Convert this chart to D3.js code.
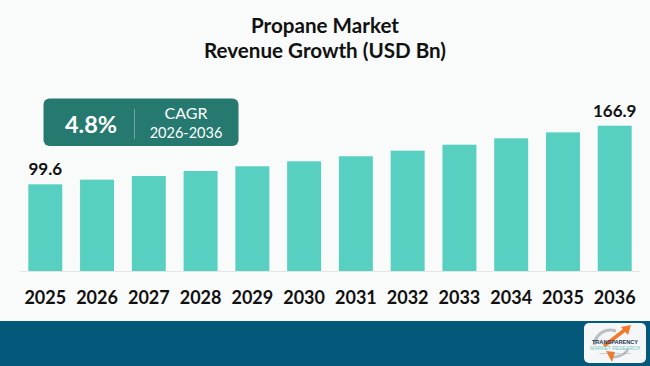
<!DOCTYPE html>
<html><head><meta charset="utf-8">
<script src="https://cdn.jsdelivr.net/npm/d3@7/dist/d3.min.js"></script>
<style>
html,body{margin:0;padding:0;background:#f9fafa;}
svg{display:block;}
</style></head>
<body><svg id="chart" width="650" height="366"></svg>
<script>
const years = ["2025","2026","2027","2028","2029","2030","2031","2032","2033","2034","2035","2036"];
const revenue = [99.6,104.9,109.1,114.9,120.3,126.0,131.8,138.2,145.1,152.4,159.3,166.9];
const labeledYears = ["2025","2036"];
const titleLines = ["Propane Market","Revenue Growth (USD Bn)"];
const cagrValue = "4.8%";
const cagrLabel = "CAGR";
const cagrPeriod = "2026-2036";

const W = 650, H = 366;
const svg = d3.select("#chart");
svg.append("rect").attr("width",W).attr("height",H).attr("fill","#f9fafa");

const titleFont = "Lato, 'Open Sans', sans-serif";

// Title
svg.append("g").selectAll("text").data(titleLines).join("text")
  .attr("x",W/2).attr("y",(d,i)=>32.8+i*25)
  .attr("text-anchor","middle")
  .attr("font-family",titleFont).attr("font-weight",700)
  .attr("font-size",20.6).attr("fill","#111")
  .text(d=>d);

// Scales
const x = d3.scaleBand().domain(years).range([28.3,631.7]).paddingInner(0.344).paddingOuter(0);
const y = d3.scaleLinear().domain([0,100]).range([271,271-87.05]);

// baseline
svg.append("line").attr("x1",20).attr("x2",640).attr("y1",y(0)+0.5).attr("y2",y(0)+0.5)
  .attr("stroke","#e4e6e6").attr("stroke-width",1);

// bars
svg.append("g").selectAll("rect").data(years).join("rect")
  .attr("x",d=>x(d)).attr("width",x.bandwidth())
  .attr("y",(d,i)=>y(revenue[i])).attr("height",(d,i)=>y(0)-y(revenue[i]))
  .attr("fill","#57d0c1");

// value labels
svg.append("g").selectAll("text").data(years.filter(d=>labeledYears.includes(d))).join("text")
  .attr("x",d=>x(d)+x.bandwidth()/2)
  .attr("y",d=>y(revenue[years.indexOf(d)])-9)
  .attr("text-anchor","middle")
  .attr("font-family",titleFont).attr("font-weight",700)
  .attr("font-size",17).attr("fill","#111")
  .text(d=>revenue[years.indexOf(d)].toFixed(1));

// x axis
const xAxis = svg.append("g").attr("transform",`translate(0,${y(0)})`)
  .call(d3.axisBottom(x).tickSize(0).tickPadding(0));
xAxis.select(".domain").remove();
xAxis.selectAll("text").attr("dy",0).attr("y",33)
  .attr("font-family",titleFont).attr("font-weight",700)
  .attr("font-size",18).attr("fill","#111");

// CAGR box
const cg = svg.append("g");
cg.append("rect").attr("x",43.5).attr("y",98.5).attr("width",195).attr("height",47.5)
  .attr("rx",6).attr("fill","#25796f");
cg.append("text").attr("x",91).attr("y",132.5).attr("text-anchor","middle")
  .attr("font-family",titleFont).attr("font-weight",700).attr("font-size",23.5)
  .attr("fill","#fff").text(cagrValue);
cg.append("line").attr("x1",134.5).attr("x2",134.5).attr("y1",109).attr("y2",139)
  .attr("stroke","#6fa9a1").attr("stroke-width",1);
cg.append("text").attr("x",186).attr("y",118.7).attr("text-anchor","middle")
  .attr("font-family",titleFont).attr("font-weight",400).attr("font-size",16)
  .attr("fill","#fff").text(cagrLabel);
cg.append("text").attr("x",186).attr("y",137.7).attr("text-anchor","middle")
  .attr("font-family",titleFont).attr("font-weight",400).attr("font-size",14.5)
  .attr("fill","#fff").text(cagrPeriod);

// bottom band
svg.append("rect").attr("x",0).attr("y",321).attr("width",W).attr("height",H-321).attr("fill","#04587a");

// logo
const lg = svg.append("g");
lg.append("rect").attr("x",584).attr("y",323).attr("width",62).attr("height",40).attr("rx",5).attr("fill","#f4f6f7");
lg.append("path").attr("d","M594,345 C596,333 606,328 616,331").attr("fill","none").attr("stroke","#b9c0c4").attr("stroke-width",3);
lg.append("path").attr("d","M604,346 L626,329").attr("fill","none").attr("stroke","#f07a2a").attr("stroke-width",3.5);
lg.append("path").attr("d","M621,327 L631,325 L628,335 Z").attr("fill","#f07a2a");
lg.append("path").attr("d","M610,357 C618,358 626,354 628,349").attr("fill","none").attr("stroke","#b9c0c4").attr("stroke-width",2.5);
lg.append("path").attr("d","M606,351 L612,362 L615,352 Z").attr("fill","#f07a2a");
lg.append("text").attr("x",615).attr("y",344).attr("text-anchor","middle")
  .attr("font-family","'Liberation Sans', Arial, sans-serif").attr("font-weight",700).attr("font-size",5.6)
  .attr("fill","#1f3552").text("TRANSPARENCY");
lg.append("text").attr("x",615).attr("y",350).attr("text-anchor","middle")
  .attr("font-family","'Liberation Sans', Arial, sans-serif").attr("font-size",5).attr("textLength",50)
  .attr("fill","#74c6c0").text("MARKET RESEARCH");
lg.append("text").attr("x",615).attr("y",354).attr("text-anchor","middle")
  .attr("font-family","'Liberation Sans', Arial, sans-serif").attr("font-size",2.5)
  .attr("fill","#8a9aa5").text("Insight · Innovation · Growth");
</script></body></html>
